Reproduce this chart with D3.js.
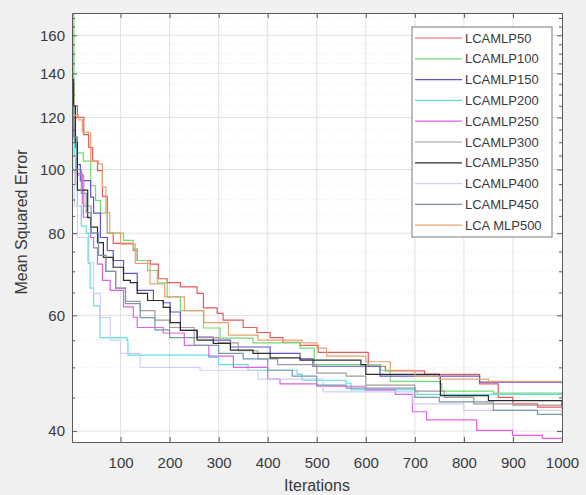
<!DOCTYPE html>
<html>
<head>
<meta charset="utf-8">
<script src="https://cdn.jsdelivr.net/npm/d3@7"></script>
<style>
  body { margin: 0; background: #f0f0f0; }
  svg { display: block; font-family: "Liberation Sans", Arial, sans-serif; }
</style>
</head>
<body>
<svg id="chart" width="586" height="495"></svg>
<script>
// best-so-far MSE per run as [iteration, mse] steps
const seriesNames = ["LCAMLP50", "LCAMLP100", "LCAMLP150", "LCAMLP200", "LCAMLP250",
  "LCAMLP300", "LCAMLP350", "LCAMLP400", "LCAMLP450", "LCA MLP500"];

const lcamlp50 = [[1,135],[5,125],[12,120],[25,113],[35,108],[43,103],[53,99.6],[63,91],[73,80],
  [85,77.2],[126,75.3],[134,72.7],[161,71.8],[177,68.2],[195,67.3],[222,66.3],[256,64.8],[269,61.6],
  [297,60.4],[309,59],[350,57.5],[378,56.5],[405,55.5],[431,54.6],[466,54],[503,52.7],[605,50.2],
  [640,49.4],[720,48.8],[832,47.2],[870,45],[900,44],[950,43.5],[1000,43.2]];
const lcamlp100 = [[1,172],[5,112],[12,106],[24,103],[39,94.5],[49,89.7],[59,85.8],[73,80],[106,78],
  [126,75.8],[134,72.7],[155,70.2],[175,67.2],[195,64],[222,61],[269,57.4],[303,55.4],[370,54.5],
  [466,53.5],[495,50.5],[630,49.5],[650,47.6],[751,47.2],[755,46],[860,45.7],[1000,45.3]];
const lcamlp150 = [[1,130],[3,118],[8,108],[12,101.7],[18,96.2],[39,90.8],[45,85.8],[59,78.8],[73,75.3],
  [85,72.7],[106,69.5],[134,65.5],[167,63.2],[187,62.7],[201,60.7],[222,56.9],[256,55.6],[289,55],
  [324,53.7],[405,52.5],[466,51.5],[492,50.2],[629,48.5],[832,47.5],[1000,47.3]];
const lcamlp200 = [[1,168],[3,150],[4,125],[6,105],[8,95],[12,88],[20,82],[30,80],[35,72],[38,66],
  [45,62],[58,55.5],[113,55],[115,52.2],[280,51.8],[300,50.5],[360,49.5],[460,48.8],[470,47.8],
  [560,47.3],[570,46.2],[700,46],[705,45.5],[1000,45]];
const lcamlp250 = [[1,120],[5,112],[12,98.6],[22,88.8],[24,84.6],[39,78.8],[45,76],[53,71.8],[63,67.8],
  [79,65.5],[106,61.8],[126,59.6],[134,57.5],[187,56.4],[230,54],[280,52],[330,50],[400,48],[425,47.2],
  [500,46.8],[600,46.2],[660,45.5],[695,42.8],[724,41.6],[826,40.1],[899,39.4],[960,39],[1000,38.6]];
const lcamlp300 = [[1,125],[5,110],[12,98],[25,88],[40,80],[55,74],[70,70],[90,66],[110,63],[140,61],
  [170,59],[200,57.5],[250,55.5],[300,54.5],[340,53],[380,51.5],[420,50.5],[500,49],[560,48.5],
  [600,47],[700,46],[760,45],[820,44],[900,43.8],[1000,43.5]];
const lcamlp350 = [[1,137],[4,125],[8,110],[12,93],[33,84.5],[39,81.7],[53,77.4],[65,73.5],[85,71],
  [106,67.8],[120,67.3],[134,64.8],[155,63.2],[187,61.7],[201,58.5],[222,56.9],[256,55],[289,54.4],
  [324,53.1],[370,52.5],[405,51.7],[466,51.3],[590,50.5],[600,48.8],[750,48.2],[752,45.3],[850,44.5],
  [1000,43.7]];
const lcamlp400 = [[1,115],[3,100],[6,88],[12,78.8],[33,72.2],[45,64.8],[59,59.5],[79,55],[100,52.5],
  [140,50],[262,49.5],[380,48],[513,45.9],[696,44],[800,43],[1000,42.6]];
const lcamlp450 = [[1,125],[4,112],[10,100],[20,92],[30,86],[40,80],[55,74],[70,70],[90,66],[110,62.5],
  [140,59.5],[170,57],[200,55.5],[250,54],[300,52.5],[350,51.5],[400,49.5],[450,48.5],[500,47],
  [560,46.5],[700,45],[750,44.3],[860,43],[950,42.4],[1000,42.2]];
const lcamlp500 = [[1,121],[14,119],[22,114],[35,113.7],[39,103],[55,102],[63,94],[70,86],[78,80],
  [100,77],[130,72],[160,67],[190,64],[230,61],[270,58.5],[320,56],[380,55],[470,54.5],[500,53.5],
  [520,52],[600,51],[650,49.5],[700,48.5],[750,48],[850,47.6],[1000,47.2]];

const xTicks = [100, 200, 300, 400, 500, 600, 700, 800, 900, 1000];
const yTicks = [40, 60, 80, 100, 120, 140, 160];
const yMinor = [45, 50, 55, 65, 70, 75, 85, 90, 95, 105, 110, 115, 125, 130, 135, 145, 150, 155, 165, 170];

const seriesData = [lcamlp50, lcamlp100, lcamlp150, lcamlp200, lcamlp250,
  lcamlp300, lcamlp350, lcamlp400, lcamlp450, lcamlp500];
const colors = ["#e65a5e", "#72dc72", "#6652c8", "#62e0e0", "#e062e0",
  "#a89898", "#2c2c2c", "#cfd0f2", "#7898ae", "#e8a272"];

const plotLeft = 72, plotRight = 562, plotTop = 13, plotBottom = 442;
const axisColor = "#5a5a5a";
const textColor = "#3a3a3a";

const svg = d3.select("#chart");

const x = d3.scaleLinear().domain([1, 1000]).range([plotLeft, plotRight]);
const y = d3.scaleLog().domain([38.5, 173]).range([plotBottom, plotTop]);

svg.append("rect")
  .attr("x", plotLeft).attr("y", plotTop)
  .attr("width", plotRight - plotLeft).attr("height", plotBottom - plotTop)
  .attr("fill", "white");

// grid
svg.append("g").selectAll("line").data(yMinor).join("line")
  .attr("x1", plotLeft).attr("x2", plotRight)
  .attr("y1", d => y(d)).attr("y2", d => y(d))
  .attr("stroke", "#ececec").attr("stroke-dasharray", "1,2");
svg.append("g").selectAll("line").data(yTicks).join("line")
  .attr("x1", plotLeft).attr("x2", plotRight)
  .attr("y1", d => y(d)).attr("y2", d => y(d))
  .attr("stroke", "#e0e0e0");
svg.append("g").selectAll("line").data(xTicks.slice(0, -1)).join("line")
  .attr("x1", d => x(d)).attr("x2", d => x(d))
  .attr("y1", plotTop).attr("y2", plotBottom)
  .attr("stroke", "#e0e0e0");

// curves
const line = d3.line()
  .x(d => x(d[0]))
  .y(d => y(d[1]))
  .curve(d3.curveStepAfter);

svg.append("g").selectAll("path").data(seriesData).join("path")
  .attr("d", line)
  .attr("fill", "none")
  .attr("stroke", (d, i) => colors[i])
  .attr("stroke-width", 1.2);

// axes
function styleAxis(g) {
  g.selectAll("path, line").attr("stroke", axisColor);
  g.selectAll("text").attr("fill", textColor).style("font-size", "15px")
    .style("font-family", '"Liberation Sans", Arial, sans-serif');
}

svg.append("g").attr("transform", `translate(0,${plotBottom})`)
  .call(d3.axisBottom(x).tickValues(xTicks).tickFormat(d3.format("d"))
    .tickSizeInner(-5).tickSizeOuter(0).tickPadding(15))
  .call(styleAxis);
svg.append("g").attr("transform", `translate(0,${plotTop})`)
  .call(d3.axisTop(x).tickValues(xTicks).tickSizeInner(-5).tickSizeOuter(0).tickFormat(""))
  .call(styleAxis);
svg.append("g").attr("transform", `translate(${plotLeft},0)`)
  .call(d3.axisLeft(y).tickValues(yTicks).tickFormat(d3.format("d")).tickSizeInner(-5).tickSizeOuter(0).tickPadding(7))
  .call(styleAxis);
svg.append("g").attr("transform", `translate(${plotRight},0)`)
  .call(d3.axisRight(y).tickValues(yTicks).tickFormat("").tickSizeInner(-5).tickSizeOuter(0))
  .call(styleAxis);
svg.append("g").attr("transform", `translate(${plotLeft},0)`)
  .call(d3.axisLeft(y).tickValues(yMinor).tickFormat("").tickSizeInner(-3).tickSizeOuter(0))
  .call(styleAxis).select(".domain").remove();
svg.append("g").attr("transform", `translate(${plotRight},0)`)
  .call(d3.axisRight(y).tickValues(yMinor).tickFormat("").tickSizeInner(-3).tickSizeOuter(0))
  .call(styleAxis).select(".domain").remove();

// labels
svg.append("text")
  .attr("x", (plotLeft + plotRight) / 2).attr("y", 491)
  .attr("text-anchor", "middle")
  .attr("fill", textColor)
  .style("font-size", "16px")
  .text("Iterations");
svg.append("text")
  .attr("transform", "translate(27,222) rotate(-90)")
  .attr("text-anchor", "middle")
  .attr("fill", textColor)
  .style("font-size", "16px")
  .text("Mean Squared Error");

// legend
const legend = svg.append("g");
legend.append("rect")
  .attr("x", 412).attr("y", 27).attr("width", 140).attr("height", 210)
  .attr("fill", "white").attr("stroke", "#7a7a7a");
const entry = legend.selectAll("g.entry").data(seriesNames).join("g")
  .attr("class", "entry")
  .attr("transform", (d, i) => `translate(0,${38 + i * 20.8})`);
entry.append("line")
  .attr("x1", 415).attr("x2", 462)
  .attr("stroke", (d, i) => colors[i]).attr("stroke-width", 1.2);
entry.append("text")
  .attr("x", 465).attr("dy", "0.35em")
  .attr("fill", textColor)
  .style("font-size", "13px")
  .text(d => d);
</script>
</body>
</html>
